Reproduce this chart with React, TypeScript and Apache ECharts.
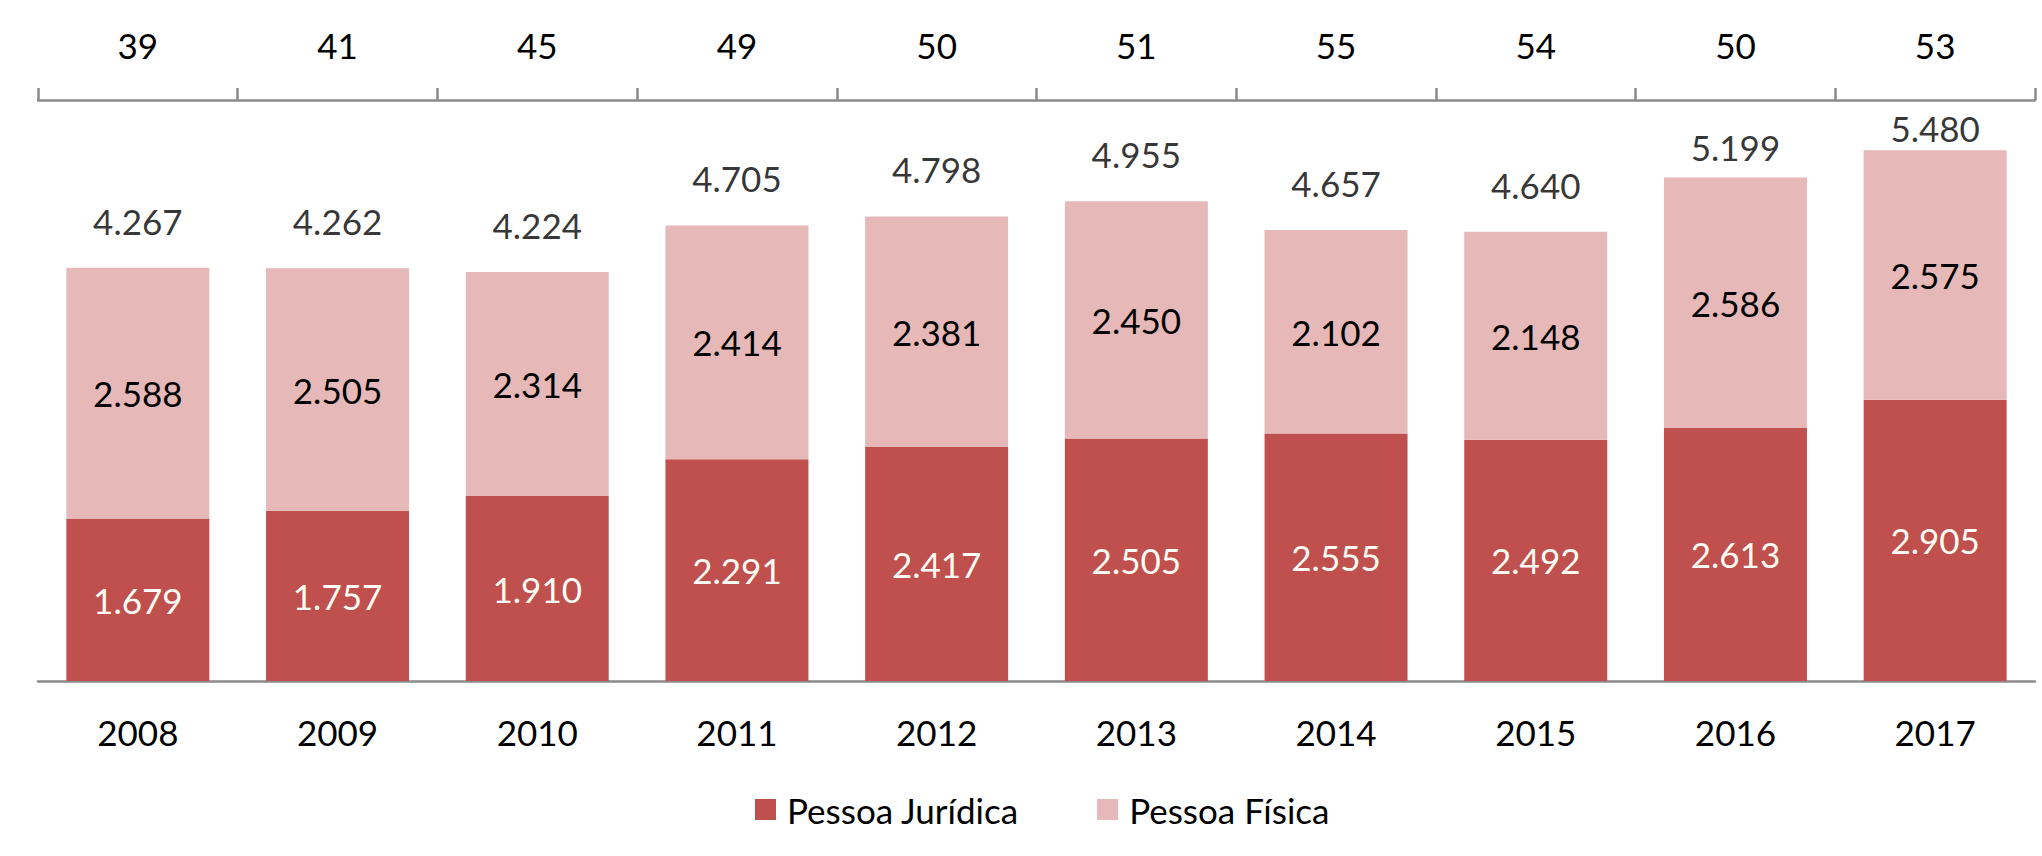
import React, { useEffect, useRef } from "react";
import * as echarts from "echarts";

const years = ["2008", "2009", "2010", "2011", "2012", "2013", "2014", "2015", "2016", "2017"];
const topCounts = ["39", "41", "45", "49", "50", "51", "55", "54", "50", "53"];
const pessoaJuridica = [1679, 1757, 1910, 2291, 2417, 2505, 2555, 2492, 2613, 2905];
const pessoaFisica = [2588, 2505, 2314, 2414, 2381, 2450, 2102, 2148, 2586, 2575];
const totals = [4267, 4262, 4224, 4705, 4798, 4955, 4657, 4640, 5199, 5480];

const FONT = "Lato";
const FS = 35;
const AXIS_COLOR = "#8A8A8A";
const TEXT = "#000";

const fmt = (n: number) => String(n).replace(/\B(?=(\d{3})+(?!\d))/g, ".");

export default function App() {
  const ref = useRef<HTMLDivElement>(null);

  useEffect(() => {
    document.body.style.margin = "0";
    const chart = echarts.init(ref.current!, null, { renderer: "svg" });
    const totalGap = (i: number) => (i === 9 ? 4 : i === 8 ? 13 : 29);
    chart.setOption({
      animation: false,
      backgroundColor: "#ffffff",
      textStyle: { fontFamily: FONT },
      grid: { left: 38, right: 7, top: 100, bottom: 175 },
      legend: {
        data: ["Pessoa Jurídica", "Pessoa Física"],
        left: 750,
        top: 787,
        icon: "rect",
        itemWidth: 21,
        itemHeight: 21,
        itemGap: 78,
        textStyle: { fontFamily: FONT, fontSize: FS, color: TEXT, padding: [0, 0, 0, 6] },
      },
      xAxis: [
        {
          type: "category",
          data: years,
          position: "bottom",
          axisLine: { show: true, lineStyle: { color: AXIS_COLOR, width: 2.5 } },
          axisTick: { show: false },
          axisLabel: { fontFamily: FONT, fontSize: FS, color: TEXT, margin: 33 },
        },
        {
          type: "category",
          data: topCounts,
          position: "top",
          axisLine: { show: true, lineStyle: { color: AXIS_COLOR, width: 2.5 } },
          axisTick: { show: true, length: 12, lineStyle: { color: AXIS_COLOR, width: 2.5 } },
          axisLabel: { fontFamily: FONT, fontSize: FS, color: TEXT, margin: 38 },
        },
      ],
      yAxis: {
        type: "value",
        min: 0,
        max: 6000,
        show: false,
        splitLine: { show: false },
      },
      series: [
        {
          name: "Pessoa Jurídica",
          type: "bar",
          stack: "total",
          xAxisIndex: 0,
          barWidth: "71.6%",
          data: pessoaJuridica,
          itemStyle: { color: "#C0504D" },
          label: {
            show: true,
            position: "inside",
            fontFamily: FONT,
            fontSize: FS,
            color: "#FFFDF5",
            formatter: (p: any) => fmt(p.value),
          },
        },
        {
          name: "Pessoa Física",
          type: "bar",
          stack: "total",
          xAxisIndex: 0,
          barWidth: "71.6%",
          data: pessoaFisica,
          itemStyle: { color: "#E6B9B8" },
          label: {
            show: true,
            position: "inside",
            fontFamily: FONT,
            fontSize: FS,
            color: TEXT,
            formatter: (p: any) => fmt(p.value),
          },
        },
        {
          name: "Total",
          type: "scatter",
          xAxisIndex: 0,
          symbol: "rect",
          symbolSize: 1,
          itemStyle: { color: "rgba(0,0,0,0)" },
          data: totals.map((v, i) => ({
            value: v,
            label: { distance: totalGap(i) },
          })),
          label: {
            show: true,
            position: "top",
            fontFamily: FONT,
            fontSize: FS,
            color: TEXT,
            formatter: (p: any) => fmt(p.value),
          },
        },
      ],
    });
    return () => chart.dispose();
  }, []);

  return (
    <div
      ref={ref}
      style={{ position: "fixed", left: 0, top: 0, width: 2042, height: 856, background: "#fff" }}
    />
  );
}
